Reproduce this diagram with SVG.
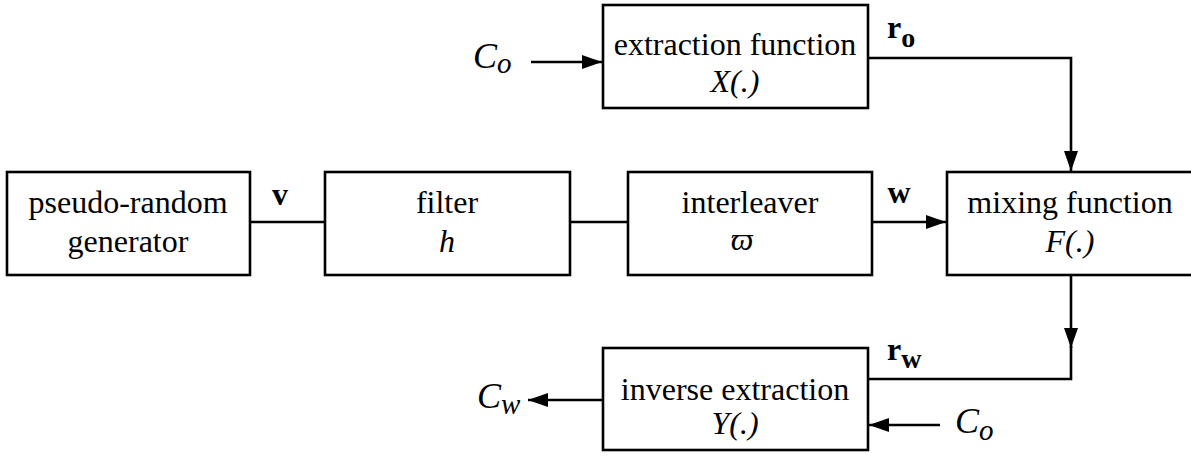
<svg xmlns="http://www.w3.org/2000/svg" width="1191" height="456" viewBox="0 0 1191 456">
<style>
.box{fill:#fff;stroke:#000;stroke-width:2.6}
.t{font-family:"Liberation Serif","Times New Roman",serif;font-size:32px;fill:#000;text-anchor:middle}
.i{font-style:italic}
.l{font-family:"Liberation Serif","Times New Roman",serif;font-size:32px;fill:#000}
.cs{font-size:36px}
.b{font-weight:bold}
.c{fill:none;stroke:#000;stroke-width:2.6}
</style>
<defs>
<marker id="ah" markerUnits="userSpaceOnUse" markerWidth="22" markerHeight="14" refX="20" refY="7" orient="auto">
<path d="M0,0 L20,7 L0,14 Z" fill="#000"/>
</marker>
</defs>
<rect width="1191" height="456" fill="#fff"/>
<g id="connectors">
<line class="c" x1="531" y1="62" x2="602" y2="62" marker-end="url(#ah)"/>
<path class="c" d="M868,58 H1071 V171" marker-end="url(#ah)"/>
<line class="c" x1="250" y1="222" x2="325" y2="222"/>
<line class="c" x1="570" y1="222" x2="628" y2="222"/>
<line class="c" x1="872" y1="222" x2="946" y2="222" marker-end="url(#ah)"/>
<line class="c" x1="1071" y1="275" x2="1071" y2="348" marker-end="url(#ah)"/>
<path class="c" d="M1071,346 V379 H868"/>
<line class="c" x1="603" y1="400" x2="528" y2="400" marker-end="url(#ah)"/>
<line class="c" x1="940" y1="425" x2="869" y2="425" marker-end="url(#ah)"/>
</g>
<g id="labels">
<text class="l i cs" x="473" y="68">C<tspan font-size="29" dy="5">o</tspan></text>
<text class="l b" x="887" y="38">r<tspan font-size="28" dy="9">o</tspan></text>
<text class="t b" x="280" y="205">v</text>
<text class="t b" x="899" y="203">w</text>
<text class="l b" x="887" y="360">r<tspan font-size="28" dy="8">w</tspan></text>
<text class="l i cs" x="477" y="408">C<tspan font-size="29" dy="6">w</tspan></text>
<text class="l i cs" x="955" y="433">C<tspan font-size="29" dy="7">o</tspan></text>
</g>
<g id="extraction">
<rect class="box" x="603" y="5" width="265" height="103"/>
<text class="t" x="735" y="55">extraction function</text>
<text class="t i" x="735" y="92">X(.)</text>
</g>
<g id="generator">
<rect class="box" x="7" y="172" width="243" height="103"/>
<text class="t" x="128" y="213">pseudo-random</text>
<text class="t" x="128" y="252">generator</text>
</g>
<g id="filter">
<rect class="box" x="325" y="172" width="245" height="103"/>
<text class="t" x="447" y="213">filter</text>
<text class="t i" x="447" y="252">h</text>
</g>
<g id="interleaver">
<rect class="box" x="628" y="172" width="244" height="103"/>
<text class="t" x="750" y="213">interleaver</text>
<text class="t i" x="742" y="250">ϖ</text>
</g>
<g id="mixing">
<rect class="box" x="947" y="172" width="246" height="103"/>
<text class="t" x="1070" y="213">mixing function</text>
<text class="t i" x="1070" y="252">F(.)</text>
</g>
<g id="inverse">
<rect class="box" x="603" y="348" width="265" height="102"/>
<text class="t" x="735" y="400">inverse extraction</text>
<text class="t i" x="735" y="434">Y(.)</text>
</g>
</svg>
